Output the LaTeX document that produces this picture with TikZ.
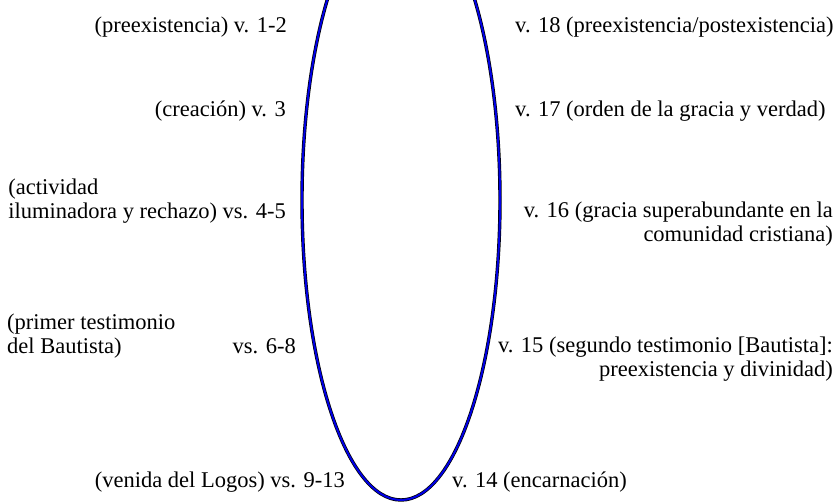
\documentclass[tikz,border=0pt]{standalone}
\usepackage{fontspec}
\setmainfont{Liberation Serif}
\begin{document}
\begin{tikzpicture}[x=1pt, y=-1pt,
  lbl/.style={inner sep=0pt, font=\fontsize{22.5}{24}\selectfont},
  izq/.style={lbl, anchor=base east},
  der/.style={lbl, anchor=base west},
  arco/.style={draw=black, double=blue!90!black, double distance=2pt, line width=0.7pt}]
\useasboundingbox (0,0) rectangle (837,501);
\begin{scope}
\clip (0,0) rectangle (837,501);
\draw[arco] (401,200) ellipse [x radius=99, y radius=300];
\end{scope}
% lado izquierdo
\node[izq] (v1) at (287,32) {(preexistencia) v. 1-2};
\node[izq] (v3) at (286,116) {(creación) v. 3};
\node[lbl, align=left, anchor=base east] (v4) at (286,218) {(actividad\\iluminadora y rechazo) vs. 4-5};
\node[lbl, align=left, anchor=base west] (v6t) at (7,353) {(primer testimonio\\del Bautista)};
\node[izq] (v6) at (296,353) {vs. 6-8};
\node[izq] (v9) at (345,487) {(venida del Logos) vs. 9-13};
% lado derecho
\node[der] (v18) at (515,32) {v. 18 (preexistencia/postexistencia)};
\node[der] (v17) at (515,116) {v. 17 (orden de la gracia y verdad)};
\node[lbl, align=right, anchor=base east] (v16) at (833,241) {v. 16 (gracia superabundante en la\\comunidad cristiana)};
\node[lbl, align=right, anchor=base east] (v15) at (833,376) {v. 15 (segundo testimonio [Bautista]:\\preexistencia y divinidad)};
\node[der] (v14) at (452,487) {v. 14 (encarnación)};
\end{tikzpicture}
\end{document}
